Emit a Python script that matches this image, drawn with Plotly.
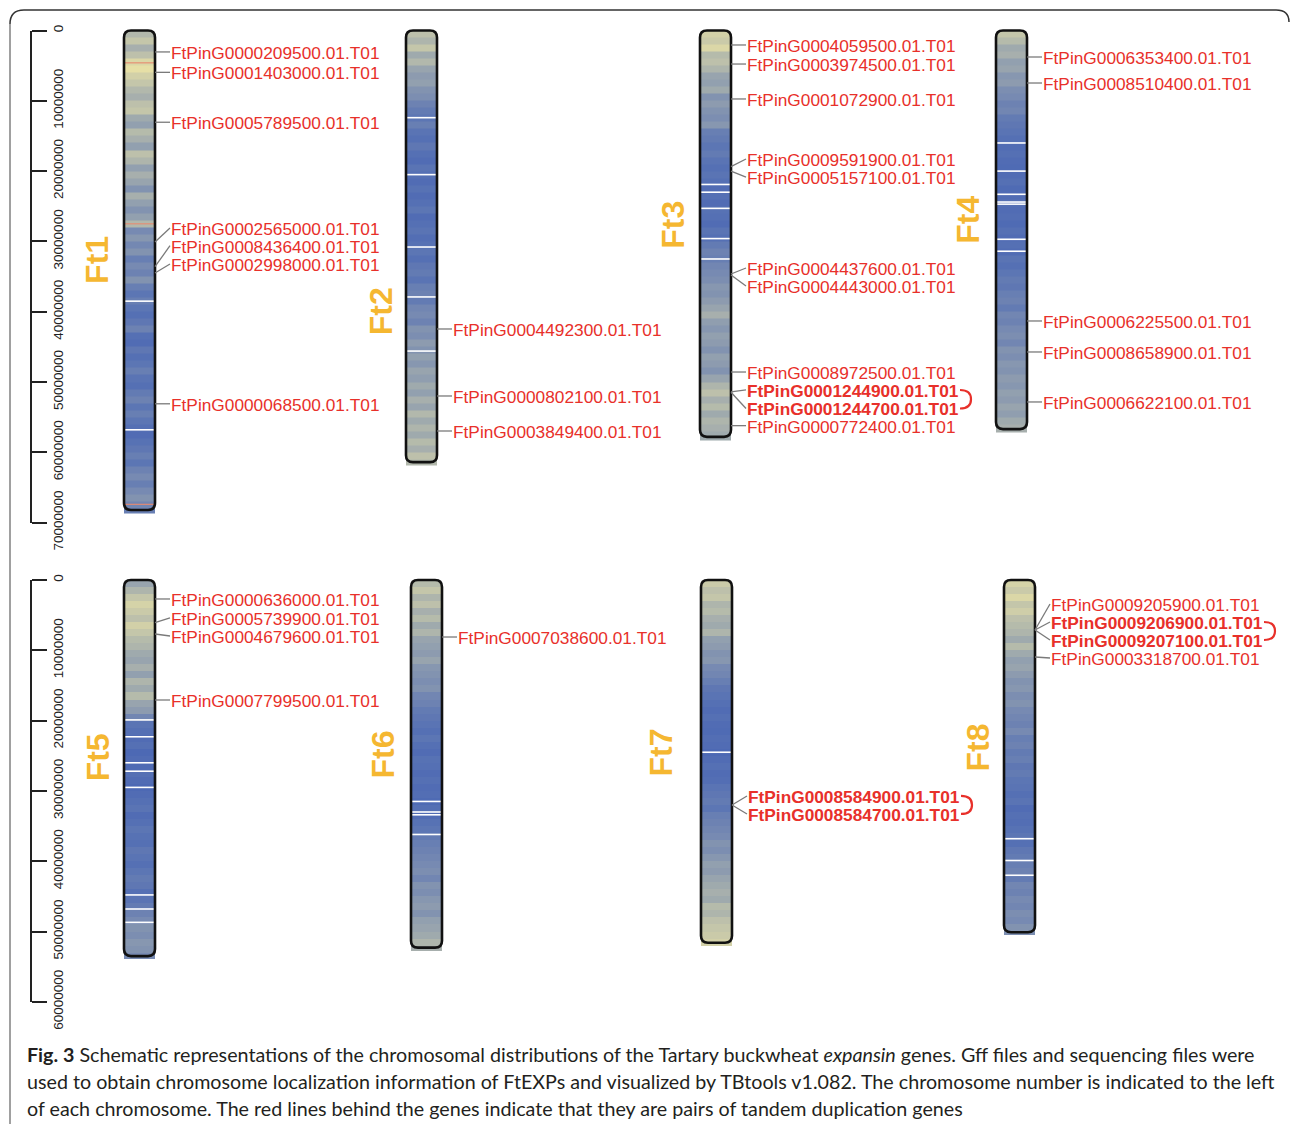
import plotly.graph_objects as go

W, H = 1290, 1124

# ---------------- data ----------------
CHROMS = ["Ft1", "Ft2", "Ft3", "Ft4", "Ft5", "Ft6", "Ft7", "Ft8"]
CHROM_LEN_MB = [68.2, 61.4, 57.8, 56.7, 53.5, 52.3, 51.6, 50.1]
BIN_MB = 1.0

# gene density per 1 Mb bin (0 = sparse, 1 = dense)
DENS_FT1 = [0.45, 0.50, 0.42, 0.48, 0.58, 0.62, 0.55, 0.50, 0.45, 0.42,
            0.48, 0.50, 0.40, 0.36, 0.46, 0.42, 0.36, 0.48, 0.44, 0.36,
            0.42, 0.38, 0.30, 0.42, 0.36, 0.30, 0.36, 0.45, 0.26, 0.32,
            0.25, 0.30, 0.20, 0.26, 0.22, 0.30, 0.20, 0.15, 0.20, 0.15,
            0.12, 0.16, 0.22, 0.12, 0.10, 0.16, 0.12, 0.15, 0.20, 0.14,
            0.12, 0.18, 0.22, 0.15, 0.20, 0.15, 0.12, 0.10, 0.13, 0.16,
            0.20, 0.15, 0.22, 0.26, 0.20, 0.26, 0.30, 0.24, 0.20]
DENS_FT2 = [0.48, 0.44, 0.50, 0.40, 0.45, 0.38, 0.34, 0.36, 0.30, 0.28,
            0.22, 0.18, 0.15, 0.20, 0.14, 0.12, 0.16, 0.12, 0.10, 0.14,
            0.12, 0.10, 0.13, 0.10, 0.12, 0.15, 0.10, 0.12, 0.14, 0.11,
            0.13, 0.15, 0.12, 0.16, 0.18, 0.14, 0.20, 0.22, 0.18, 0.24,
            0.26, 0.22, 0.30, 0.28, 0.34, 0.30, 0.36, 0.32, 0.38, 0.35,
            0.40, 0.36, 0.42, 0.38, 0.45, 0.40, 0.44, 0.40, 0.46, 0.42,
            0.48, 0.45]
DENS_FT3 = [0.55, 0.52, 0.58, 0.46, 0.48, 0.44, 0.38, 0.36, 0.40, 0.30,
            0.34, 0.30, 0.28, 0.32, 0.20, 0.18, 0.15, 0.18, 0.14, 0.12,
            0.14, 0.12, 0.10, 0.12, 0.10, 0.13, 0.12, 0.10, 0.14, 0.12,
            0.18, 0.22, 0.20, 0.24, 0.26, 0.28, 0.32, 0.30, 0.34, 0.38,
            0.42, 0.35, 0.32, 0.36, 0.34, 0.30, 0.36, 0.34, 0.30, 0.38,
            0.44, 0.48, 0.42, 0.46, 0.40, 0.44, 0.42, 0.40]
DENS_FT4 = [0.50, 0.46, 0.40, 0.42, 0.36, 0.38, 0.32, 0.34, 0.28, 0.26,
            0.22, 0.24, 0.18, 0.16, 0.14, 0.12, 0.10, 0.12, 0.10, 0.09,
            0.10, 0.12, 0.09, 0.10, 0.12, 0.10, 0.11, 0.09, 0.12, 0.10,
            0.12, 0.10, 0.14, 0.12, 0.15, 0.18, 0.16, 0.20, 0.22, 0.18,
            0.24, 0.22, 0.26, 0.28, 0.24, 0.30, 0.28, 0.32, 0.30, 0.34,
            0.32, 0.36, 0.34, 0.38, 0.35, 0.40, 0.42]
DENS_FT5 = [0.38, 0.44, 0.50, 0.56, 0.52, 0.48, 0.55, 0.50, 0.46, 0.44,
            0.40, 0.38, 0.42, 0.36, 0.44, 0.40, 0.46, 0.38, 0.34, 0.24,
            0.14, 0.12, 0.10, 0.12, 0.08, 0.10, 0.09, 0.12, 0.10, 0.08,
            0.10, 0.12, 0.14, 0.10, 0.12, 0.15, 0.13, 0.12, 0.16, 0.14,
            0.12, 0.15, 0.18, 0.16, 0.12, 0.14, 0.18, 0.22, 0.26, 0.30,
            0.28, 0.32, 0.30, 0.26]
DENS_FT6 = [0.46, 0.50, 0.44, 0.48, 0.42, 0.46, 0.40, 0.44, 0.38, 0.36,
            0.34, 0.38, 0.32, 0.30, 0.28, 0.30, 0.24, 0.22, 0.18, 0.16,
            0.14, 0.12, 0.15, 0.12, 0.10, 0.13, 0.12, 0.10, 0.12, 0.10,
            0.11, 0.09, 0.12, 0.10, 0.13, 0.15, 0.18, 0.20, 0.22, 0.24,
            0.26, 0.28, 0.24, 0.30, 0.28, 0.32, 0.34, 0.30, 0.36, 0.38,
            0.40, 0.44, 0.42]
DENS_FT7 = [0.52, 0.48, 0.50, 0.44, 0.46, 0.42, 0.40, 0.44, 0.36, 0.34,
            0.30, 0.32, 0.26, 0.24, 0.20, 0.16, 0.14, 0.12, 0.10, 0.12,
            0.10, 0.09, 0.11, 0.10, 0.08, 0.10, 0.12, 0.10, 0.11, 0.14,
            0.16, 0.18, 0.15, 0.20, 0.22, 0.24, 0.26, 0.30, 0.28, 0.32,
            0.36, 0.34, 0.38, 0.40, 0.42, 0.40, 0.46, 0.44, 0.48, 0.50,
            0.52, 0.55]
DENS_FT8 = [0.56, 0.52, 0.58, 0.50, 0.54, 0.48, 0.46, 0.44, 0.40, 0.46,
            0.40, 0.36, 0.38, 0.34, 0.30, 0.32, 0.28, 0.30, 0.26, 0.24,
            0.22, 0.26, 0.20, 0.22, 0.18, 0.20, 0.16, 0.18, 0.15, 0.14,
            0.12, 0.14, 0.10, 0.12, 0.11, 0.13, 0.15, 0.12, 0.16, 0.18,
            0.20, 0.22, 0.18, 0.24, 0.22, 0.26, 0.24, 0.28, 0.26, 0.30,
            0.28]

# gene-free gaps (Mb) and gene-dense hot spots (Mb)
GAPS_FT1 = [38.5, 56.8]
GAPS_FT2 = [12.4, 20.5, 30.8, 37.9, 45.6]
GAPS_FT3 = [21.9, 23.0, 25.3, 29.6, 32.5]
GAPS_FT4 = [16.0, 20.0, 23.3, 24.4, 24.7, 29.7, 31.4]
GAPS_FT5 = [19.9, 22.3, 26.0, 27.2, 29.5, 44.8, 46.8, 48.7]
GAPS_FT6 = [31.5, 33.0, 33.4, 36.2]
GAPS_FT7 = [24.5]
GAPS_FT8 = [36.8, 39.9, 42.0]
HOT_FT1 = [4.6, 27.5, 67.4]

GENE_IDS = [
    "FtPinG0000209500.01.T01", "FtPinG0001403000.01.T01", "FtPinG0005789500.01.T01",
    "FtPinG0002565000.01.T01", "FtPinG0008436400.01.T01", "FtPinG0002998000.01.T01",
    "FtPinG0000068500.01.T01",
    "FtPinG0004492300.01.T01", "FtPinG0000802100.01.T01", "FtPinG0003849400.01.T01",
    "FtPinG0004059500.01.T01", "FtPinG0003974500.01.T01", "FtPinG0001072900.01.T01",
    "FtPinG0009591900.01.T01", "FtPinG0005157100.01.T01", "FtPinG0004437600.01.T01",
    "FtPinG0004443000.01.T01", "FtPinG0008972500.01.T01", "FtPinG0001244900.01.T01",
    "FtPinG0001244700.01.T01", "FtPinG0000772400.01.T01",
    "FtPinG0006353400.01.T01", "FtPinG0008510400.01.T01", "FtPinG0006225500.01.T01",
    "FtPinG0008658900.01.T01", "FtPinG0006622100.01.T01",
    "FtPinG0000636000.01.T01", "FtPinG0005739900.01.T01", "FtPinG0004679600.01.T01",
    "FtPinG0007799500.01.T01",
    "FtPinG0007038600.01.T01",
    "FtPinG0008584900.01.T01", "FtPinG0008584700.01.T01",
    "FtPinG0009205900.01.T01", "FtPinG0009206900.01.T01", "FtPinG0009207100.01.T01",
    "FtPinG0003318700.01.T01",
]
GENE_CHROM = (["Ft1"] * 7 + ["Ft2"] * 3 + ["Ft3"] * 11 + ["Ft4"] * 5 +
              ["Ft5"] * 4 + ["Ft6"] * 1 + ["Ft7"] * 2 + ["Ft8"] * 4)
GENE_POS_MB = [3.05, 5.95, 13.05, 30.1, 33.6, 34.5, 53.1,
               42.46, 51.99, 56.97,
               2.06, 4.77, 9.74, 19.37, 19.99, 34.64, 34.78, 48.58, 51.42, 51.45, 56.21,
               3.77, 7.47, 41.32, 45.73, 52.84,
               2.70, 6.07, 7.68, 17.07,
               8.11,
               32.0, 32.0,
               7.11, 7.11, 7.11, 10.95]
TANDEM_PAIRS = [("FtPinG0001244900.01.T01", "FtPinG0001244700.01.T01"),
                ("FtPinG0008584900.01.T01", "FtPinG0008584700.01.T01"),
                ("FtPinG0009206900.01.T01", "FtPinG0009207100.01.T01")]

SCALE_TOP_TICKS = [0, 10000000, 20000000, 30000000, 40000000, 50000000, 60000000, 70000000]
SCALE_BOTTOM_TICKS = [0, 10000000, 20000000, 30000000, 40000000, 50000000, 60000000]

CAPTION = [
    "<b>Fig. 3</b> Schematic representations of the chromosomal distributions of the Tartary buckwheat "
    "<i>expansin</i> genes. Gff files and sequencing files were",
    "used to obtain chromosome localization information of FtEXPs and visualized by TBtools v1.082. "
    "The chromosome number is indicated to the left",
    "of each chromosome. The red lines behind the genes indicate that they are pairs of tandem duplication genes",
]

# ---------------- layout settings ----------------
PX_PER_MB = 7.03
SLOT_PX = 292.0                     # nominal horizontal distance between chromosomes
SLOT_NUDGE_PX = [5.5, -4.5, -2.5, 1.5, 2.0, -3.0, -5.0, 6.0]
HALF_W_PX = 15.5                    # half chromosome width
CORNER_PX = 7.0
# label vertical displacement (px, downwards) so that crowded labels do not overlap
LABEL_DY_PX = [0, 0, 0, -14, -21, -9, 0,
               0, 0, 0,
               0, 0, 0, -7.7, 6, -6, 11, 0, -2, 16.3, 0,
               0, 0, 0, 0, 0,
               0, -4.7, 2, 0,
               0,
               -9, 9,
               -26, -8, 10, 1]
TITLE_POS_MB = [32.7, 40.0, 27.7, 27.0, 25.3, 24.9, 24.6, 23.9]
TITLE_SHIFT_PX = [-42, -41, -42, -43, -42, -43, -56, -41]

RED = "#e8302a"
GOLD = "#f5b731"
COLORSCALE = [[0.0, "#3c5ab4"], [0.12, "#5570b4"], [0.25, "#7488b2"], [0.38, "#98a4ae"],
              [0.50, "#c4c6aa"], [0.62, "#e6dfa6"], [0.80, "#f0b070"], [1.0, "#e8402a"]]

DENS = [DENS_FT1, DENS_FT2, DENS_FT3, DENS_FT4, DENS_FT5, DENS_FT6, DENS_FT7, DENS_FT8]
GAPS = [GAPS_FT1, GAPS_FT2, GAPS_FT3, GAPS_FT4, GAPS_FT5, GAPS_FT6, GAPS_FT7, GAPS_FT8]
HOTS = [HOT_FT1, [], [], [], [], [], [], []]


def py(px):
    return 1 - px / H


# panel geometry: zero line (px), plot band (px), slot-1 offset (px)
PANELS = [
    dict(xa="x", ya="y", zero=30.5, band=(18, 540), first=134.0, idx=range(0, 4)),
    dict(xa="x2", ya="y2", zero=580.0, band=(566, 1022), first=137.5, idx=range(4, 8)),
]

fig = go.Figure()
shapes = []
annotations = []

hw = HALF_W_PX / SLOT_PX
rx = CORNER_PX / SLOT_PX
ry = CORNER_PX / PX_PER_MB * 1e6
bold = {g for pair in TANDEM_PAIRS for g in pair}

for p in PANELS:
    xref, yref = p["xa"], p["ya"]
    for slot, ci in enumerate(p["idx"], start=1):
        name = CHROMS[ci]
        xc = slot + SLOT_NUDGE_PX[ci] / SLOT_PX
        L = CHROM_LEN_MB[ci] * 1e6
        dens = DENS[ci]
        edges = [i * BIN_MB * 1e6 for i in range(len(dens))] + [L + 0.45e6]
        xl, xr = xc - hw, xc + hw
        fig.add_trace(go.Heatmap(
            x=[xl, xr], y=edges, z=[[v] for v in dens],
            colorscale=COLORSCALE, zmin=0, zmax=1, showscale=False,
            hoverinfo="skip", xaxis=xref, yaxis=yref))
        # gene-free gaps and dense spots
        for g in GAPS[ci]:
            shapes.append(dict(type="line", xref=xref, yref=yref, x0=xl, x1=xr,
                               y0=g * 1e6, y1=g * 1e6, line=dict(color="white", width=1.6)))
        for g in HOTS[ci]:
            shapes.append(dict(type="line", xref=xref, yref=yref, x0=xl, x1=xr,
                               y0=g * 1e6, y1=g * 1e6, line=dict(color="#e88a70", width=1.1)))
        # white masks over the top corners
        for sx in (xl, xr):
            d = rx if sx == xl else -rx
            shapes.append(dict(type="path", xref=xref, yref=yref,
                               path=f"M {sx},{-0.3e6} L {sx},{ry} Q {sx},0 {sx + d},0 L {sx + d},{-0.3e6} Z",
                               fillcolor="white", line=dict(width=0)))
        # rounded outline
        path = (f"M {xl},{ry} L {xl},{L - ry} Q {xl},{L} {xl + rx},{L} L {xr - rx},{L} "
                f"Q {xr},{L} {xr},{L - ry} L {xr},{ry} Q {xr},0 {xr - rx},0 L {xl + rx},0 "
                f"Q {xl},0 {xl},{ry} Z")
        shapes.append(dict(type="path", xref=xref, yref=yref, path=path,
                           line=dict(color="#111111", width=2.6)))
        # chromosome name
        annotations.append(dict(x=xc, y=TITLE_POS_MB[ci] * 1e6, xref=xref, yref=yref,
                                xshift=TITLE_SHIFT_PX[ci], text=f"<b>{name}</b>", textangle=-90,
                                showarrow=False, font=dict(family="Liberation Sans, Arial", size=32,
                                                           color=GOLD)))
        # genes on this chromosome
        for gi, gid in enumerate(GENE_IDS):
            if GENE_CHROM[gi] != name:
                continue
            gy = GENE_POS_MB[gi] * 1e6
            dy = LABEL_DY_PX[gi]
            shapes.append(dict(type="line", xref=xref, yref=yref,
                               xsizemode="pixel", xanchor=xr, x0=0, x1=15,
                               ysizemode="pixel", yanchor=gy, y0=0, y1=-dy,
                               line=dict(color="#7a7a7a", width=1.3)))
            txt = f"<b>{gid}</b>" if gid in bold else gid
            annotations.append(dict(x=xr, y=gy, xref=xref, yref=yref, xanchor="left",
                                    yanchor="middle", xshift=15, yshift=-dy - 1, text=txt,
                                    showarrow=False, borderpad=0,
                                    font=dict(family="Liberation Sans, Arial", size=17.3, color=RED)))
        # brackets joining tandem duplicates
        for a, b in TANDEM_PAIRS:
            ia, ib = GENE_IDS.index(a), GENE_IDS.index(b)
            if GENE_CHROM[ia] != name:
                continue
            ga = GENE_POS_MB[ia] * 1e6
            dya = LABEL_DY_PX[ia]
            dyb = LABEL_DY_PX[ib] + (GENE_POS_MB[ib] - GENE_POS_MB[ia]) * PX_PER_MB
            x0, x1 = 229, 240
            ym = -(dya + dyb) / 2
            bp = (f"M {x0},{-dya} Q {x1},{-dya} {x1},{ym} Q {x1},{-dyb} {x0},{-dyb}")
            shapes.append(dict(type="path", xref=xref, yref=yref,
                               xsizemode="pixel", xanchor=xr,
                               ysizemode="pixel", yanchor=ga, path=bp,
                               line=dict(color=RED, width=2.2)))

# caption
for i, line in enumerate(CAPTION):
    annotations.append(dict(x=25 / W, y=py(1054 + 27 * i), xref="paper", yref="paper",
                            xanchor="left", yanchor="middle", text=line, showarrow=False,
                            font=dict(family="Lato, Noto Sans", size=19.7, color="#231f20")))

# outer frame
shapes.append(dict(type="path", xref="paper", yref="paper",
                   path=f"M {10 / W},{py(1124)} L {10 / W},{py(24)}",
                   line=dict(color="#a0a0a0", width=2)))
shapes.append(dict(type="path", xref="paper", yref="paper",
                   path=(f"M {10 / W},{py(24)} Q {10 / W},{py(10)} {24 / W},{py(10)} "
                         f"L {1276 / W},{py(10)} Q {1289 / W},{py(10)} {1289 / W},{py(22)}"),
                   line=dict(color="#333333", width=1.5)))

layout = dict(width=W, height=H, margin=dict(l=0, r=0, t=0, b=0, autoexpand=False),
              paper_bgcolor="white", plot_bgcolor="rgba(0,0,0,0)",
              shapes=shapes, annotations=annotations, showlegend=False)

for p, key in zip(PANELS, ("", "2")):
    a = p["first"] - SLOT_PX
    x_lo = -a / SLOT_PX
    x_hi = (W - a) / SLOT_PX
    top, bot = p["band"]
    y_top = (top - p["zero"]) / PX_PER_MB * 1e6
    y_bot = (bot - p["zero"]) / PX_PER_MB * 1e6
    layout["xaxis" + key] = dict(domain=[0, 1], range=[x_lo, x_hi], visible=False,
                                 anchor="y" + key, fixedrange=True, automargin=False)
    layout["yaxis" + key] = dict(domain=[py(bot), py(top)], range=[y_bot, y_top],
                                 visible=False, anchor="x" + key, fixedrange=True,
                                 automargin=False)

# bp scale bars
for key, zero, ticks in (("3", 30.5, SCALE_TOP_TICKS), ("4", 580.0, SCALE_BOTTOM_TICKS)):
    end = zero + ticks[-1] / 1e6 * PX_PER_MB
    fig.add_trace(go.Scatter(x=[0.5, 0.5], y=[0, ticks[-1]], mode="lines", opacity=0,
                             hoverinfo="skip", showlegend=False,
                             xaxis="x" + key, yaxis="y" + key))
    layout["xaxis" + key] = dict(domain=[0, 30 / W], range=[0, 1], visible=False,
                                 anchor="y" + key, fixedrange=True, automargin=False)
    layout["yaxis" + key] = dict(domain=[py(end), py(zero)], range=[ticks[-1], 0],
                                 anchor="x" + key, side="right", showline=True,
                                 linecolor="#222222", linewidth=2, ticks="outside",
                                 ticklen=15, tickwidth=2, tickcolor="#222222",
                                 tickmode="array", tickvals=ticks,
                                 ticktext=[str(t) for t in ticks], tickangle=-90,
                                 tickfont=dict(family="Liberation Sans, Arial", size=13.5,
                                               color="#222222"),
                                 showgrid=False, zeroline=False, fixedrange=True,
                                 automargin=False)

fig.update_layout(**layout)
fig.write_html("out.html")
